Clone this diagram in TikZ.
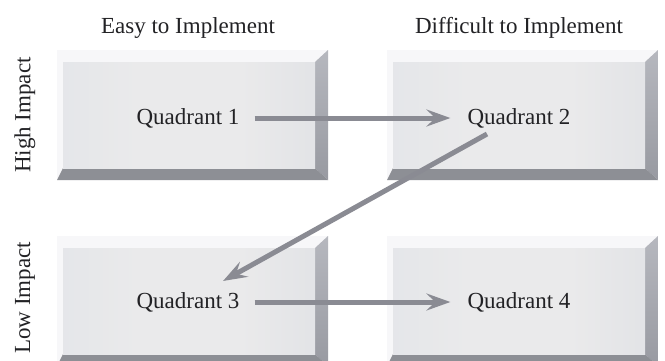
\documentclass[tikz,border=0pt]{standalone}
\usepackage{fontspec}
\setmainfont{Liberation Serif}
\usetikzlibrary{arrows.meta,calc}
\definecolor{txt}{HTML}{222225}
\definecolor{arr}{HTML}{8A8B93}
\definecolor{faceL}{HTML}{DCE0E7}
\definecolor{faceM}{HTML}{EAEAEB}
\definecolor{faceR}{HTML}{D6D9DF}
\definecolor{bevR}{HTML}{A9ABB3}
\definecolor{bevB}{HTML}{8D8F95}
\definecolor{bevT}{HTML}{F7F7F9}
\pgfdeclarehorizontalshading{facesh}{100bp}{color(0bp)=(faceL); color(40bp)=(faceM); color(60bp)=(faceM); color(100bp)=(faceR)}
\tikzset{
  lbl/.style={font=\fontsize{23}{26}\selectfont, text=txt, inner sep=1pt},
  qlbl/.style={font=\fontsize{23}{26}\selectfont, text=txt, inner sep=1pt},
  flow/.style={draw=arr, line width=5pt, -{Stealth[length=24pt,width=17pt,inset=9pt]}},
  face/.style={shading=facesh, draw=none},
}
\newcommand\qbox[2]{%
  \fill[bevT] (#1-6,#2-12) -- (#1+265,#2-12) -- (#1+252,#2) -- (#1,#2) -- cycle;
  \fill[bevT] (#1-6,#2-12) -- (#1,#2) -- (#1,#2+106) -- (#1-6,#2+118) -- cycle;
  \shade[top color=bevR!85!white, bottom color=bevR!90!black] (#1+252,#2) -- (#1+265,#2-12) -- (#1+265,#2+118) -- (#1+252,#2+106) -- cycle;
  \fill[bevB] (#1,#2+106) -- (#1+252,#2+106) -- (#1+265,#2+118) -- (#1-6,#2+118) -- cycle;
  \shade[face] (#1,#2) rectangle (#1+252,#2+106);
}
\begin{document}
\begin{tikzpicture}[x=1pt,y=-1pt]
\useasboundingbox (0,0) rectangle (665,360);
\clip (0,0) rectangle (665,360);
\fill[white] (0,0) rectangle (665,360);
\qbox{63}{62}
\qbox{393}{62}
\qbox{63}{248}
\qbox{393}{248}
\node[lbl] (easy) at (188,28) {Easy to Implement};
\node[lbl] (diff) at (519,28) {Difficult to Implement};
\node[lbl, rotate=90] (high) at (25,115) {High Impact};
\node[lbl, rotate=90] (low) at (25,298) {Low Impact};
\node[qlbl] (q1) at (188,118) {Quadrant 1};
\node[qlbl] (q2) at (519,118) {Quadrant 2};
\node[qlbl] (q3) at (188,302) {Quadrant 3};
\node[qlbl] (q4) at (519,302) {Quadrant 4};
\coordinate (d2) at (487,134);
\coordinate (d3) at (223,281);
\draw[flow] ($(q1.east)+(14,0)$) -- ($(q2.west)+(-16,0)$);
\draw[flow] (d2) -- (d3);
\draw[flow] ($(q3.east)+(14,0)$) -- ($(q4.west)+(-16,0)$);
\end{tikzpicture}
\end{document}
